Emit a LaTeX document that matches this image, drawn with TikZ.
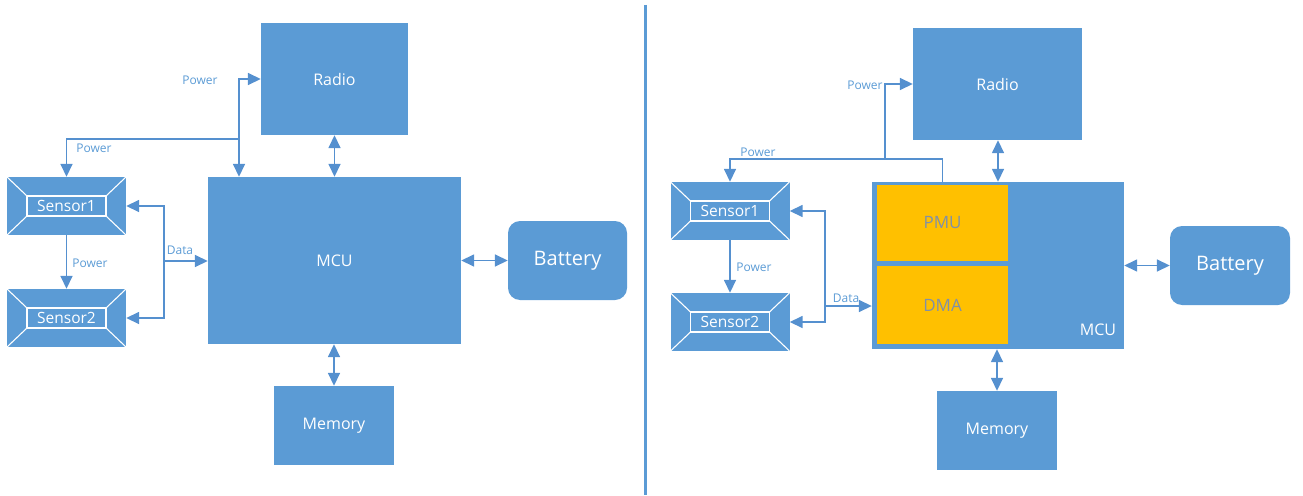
\documentclass[tikz,border=0pt]{standalone}
\usepackage{fontspec}
\setmainfont{Open Sans}
\usetikzlibrary{arrows.meta,calc}
\definecolor{myblue}{HTML}{5B9BD5}
\definecolor{lineblue}{HTML}{5590CF}
\definecolor{myyellow}{HTML}{FFC000}
\definecolor{subtext}{HTML}{8090A8}
\tikzset{
  blk/.style={fill=myblue, draw=none, text=white, inner sep=0pt,
    font=\fontsize{16}{19}\selectfont},
  ylw/.style={fill=myyellow, draw=none, text=subtext, inner sep=0pt,
    font=\fontsize{17}{20}\selectfont, minimum width=131pt, minimum height=76pt},
  sensorbox/.style={fill=myblue, draw=none, text=white, inner sep=0pt,
    minimum width=119pt, minimum height=58pt,
    font=\fontsize{15.5}{18}\selectfont,
    path picture={
      \coordinate (pnw) at (path picture bounding box.north west);
      \coordinate (pse) at (path picture bounding box.south east);
      \coordinate (pne) at (path picture bounding box.north east);
      \coordinate (psw) at (path picture bounding box.south west);
      \draw[white, line width=1.1pt] ($(pnw)+(20pt,-19pt)$) rectangle ($(pse)+(-20pt,19pt)$);
      \draw[white, line width=1.1pt] (pnw) -- ($(pnw)+(20pt,-19pt)$);
      \draw[white, line width=1.1pt] (pne) -- ($(pne)+(-20pt,-19pt)$);
      \draw[white, line width=1.1pt] (psw) -- ($(psw)+(20pt,19pt)$);
      \draw[white, line width=1.1pt] (pse) -- ($(pse)+(-20pt,19pt)$);
    }},
  conn/.style={draw=lineblue, line width=1.6pt},
  arr/.style={conn, -{Triangle[length=13pt,width=12pt]}},
  darr/.style={conn, {Triangle[length=13pt,width=12pt]}-{Triangle[length=13pt,width=12pt]}},
  lbl/.style={text=myblue, inner sep=0pt, font=\fontsize{12}{14}\selectfont},
}
\begin{document}
\begin{tikzpicture}[x=1pt,y=-1pt]
\useasboundingbox (0,0) rectangle (1303,495);

% divider
\draw[myblue, line width=3pt] (645.5,5) -- (645.5,495);

% ---------- left ----------
\node[blk, minimum width=147pt, minimum height=112pt] (radioL) at (334.5,79) {Radio};
\node[blk, minimum width=253pt, minimum height=167pt] (mcuL) at (334.5,260.5) {MCU};
\node[blk, minimum width=120pt, minimum height=79pt] (memL) at (334,425.5) {Memory};
\node[blk, rounded corners=12pt, minimum width=119pt, minimum height=79pt,
      font=\fontsize{20}{24}\selectfont] (batL) at (567.5,260.5) {Battery};
\node[sensorbox] (s1L) at (66.5,206) {Sensor1};
\node[sensorbox] (s2L) at (66.5,318) {Sensor2};

\coordinate (pjL) at (239,139);
\coordinate (djL) at (164,261);
\draw[arr] (pjL) |- (radioL.west);
\draw[arr] (pjL) -- (pjL |- mcuL.north);
\draw[arr] (pjL) -| (s1L.north);
\draw[arr] (s1L.south) -- (s2L.north);
\draw[arr] (djL) -- (djL -| mcuL.west);
\draw[arr] (djL) |- (s1L.east);
\draw[arr] (djL) |- (s2L.east);
\draw[darr] (radioL.south) -- (mcuL.north);
\draw[darr] (mcuL.south -| memL.north) -- (memL.north);
\draw[darr] (mcuL.east |- batL.west) -- (batL.west);

\node[lbl] (lp1) at (200,80) {Power};
\node[lbl] (lp2) at (94,148) {Power};
\node[lbl] (lp3) at (90,263) {Power};
\node[lbl] (ld1) at (180,250) {Data};

% ---------- right ----------
\node[blk, minimum width=169pt, minimum height=112pt] (radioR) at (997.5,84) {Radio};
\node[blk, minimum width=252pt, minimum height=167pt] (mcuR) at (998,265.5) {};
\node[ylw] (pmuR) at (942.5,222.5) {PMU};
\node[ylw, minimum height=78pt] (dmaR) at (942.5,305) {DMA};
\node[text=white, inner sep=0pt, font=\fontsize{16}{19}\selectfont] (mcuRlbl) at (1098,330) {MCU};
\node[blk, minimum width=120pt, minimum height=79pt] (memR) at (997,430.5) {Memory};
\node[blk, rounded corners=12pt, minimum width=120pt, minimum height=79pt,
      font=\fontsize{20}{24}\selectfont] (batR) at (1230,265.5) {Battery};
\node[sensorbox] (s1R) at (730,211) {Sensor1};
\node[sensorbox] (s2R) at (730,322) {Sensor2};

\coordinate (pR) at (885,159);
\coordinate (djR) at (825,306);
\draw[arr] (pmuR.north |- mcuR.north) -- (pmuR.north |- pR) -| (s1R.north);
\draw[arr] (pR) |- (radioR.west);
\draw[arr] (s1R.south) -- (s2R.north);
\draw[arr] (djR) -- (djR -| mcuR.west);
\draw[arr] (djR) |- (s1R.east);
\draw[arr] (djR) |- (s2R.east);
\draw[darr] (radioR.south -| mcuR.north) -- (mcuR.north);
\draw[darr] (mcuR.south -| memR.north) -- (memR.north);
\draw[darr] (mcuR.east |- batR.west) -- (batR.west);

\node[lbl] (rp1) at (865,85) {Power};
\node[lbl] (rp2) at (758,152) {Power};
\node[lbl] (rp3) at (754,267) {Power};
\node[lbl] (rd1) at (846,298) {Data};
\end{tikzpicture}
\end{document}
